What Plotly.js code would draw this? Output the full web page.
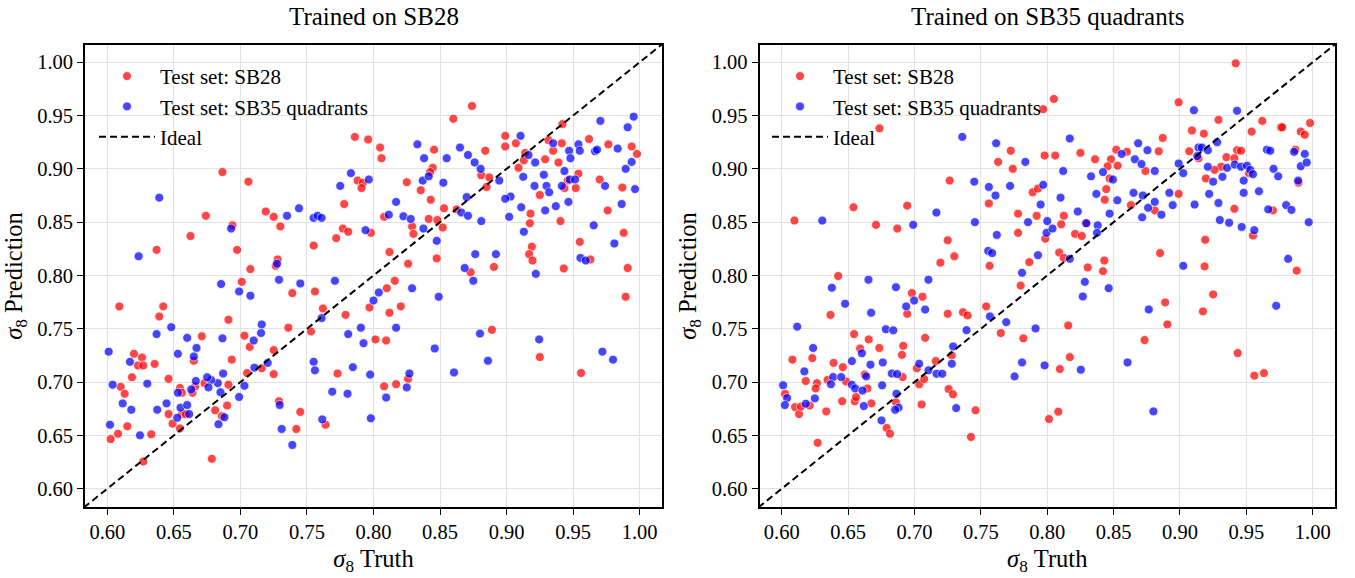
<!DOCTYPE html>
<html>
<head>
<meta charset="utf-8">
<script src="https://cdn.plot.ly/plotly-3.0.1.min.js"></script>
<style>
html,body{margin:0;padding:0;background:#ffffff;}
#chart{width:1355px;height:578px;}
</style>
</head>
<body>
<div id="chart"></div>
<script>
// ---------------- data ----------------
const TICK_VALUES = [0.60, 0.65, 0.70, 0.75, 0.80, 0.85, 0.90, 0.95, 1.00];
const TICK_LABELS = ["0.60", "0.65", "0.70", "0.75", "0.80", "0.85", "0.90", "0.95", "1.00"];
const PANEL_TITLES = ["Trained on SB28", "Trained on SB35 quadrants"];
const SERIES_NAMES = ["Test set: SB28", "Test set: SB35 quadrants", "Ideal"];
const X_TITLE = "<i>σ</i><sub>8</sub> Truth";
const Y_TITLE = "<i>σ</i><sub>8</sub> Prediction";
const IDEAL_X = [0.55, 1.05];
const IDEAL_Y = [0.55, 1.05];

// Panel 1 (trained on SB28): test set SB28  [truth, prediction]
const LEFT_SB28 = [
[0.786,0.930],[0.796,0.9275],[0.6865,0.897],[0.706,0.888],[0.788,0.889],[0.792,0.887],[0.791,0.882],[0.778,0.867],
[0.674,0.856],[0.719,0.860],[0.725,0.855],[0.730,0.846],[0.694,0.847],[0.6625,0.837],[0.637,0.824],[0.6975,0.824],
[0.777,0.844],[0.781,0.841],[0.772,0.835],[0.755,0.828],[0.798,0.840],[0.728,0.815],[0.7265,0.809],[0.7075,0.806],
[0.874,0.959],[0.860,0.947],[0.942,0.942],[0.899,0.931],[0.899,0.921],[0.907,0.924],[0.962,0.928],[0.9315,0.927],
[0.9415,0.924],[0.935,0.917],[0.9765,0.923],[0.994,0.921],[0.998,0.914],[0.805,0.920],[0.806,0.910],[0.8455,0.918],
[0.884,0.917],[0.914,0.915],[0.913,0.908],[0.929,0.909],[0.939,0.906],[0.909,0.901],[0.8445,0.901],[0.8425,0.897],
[0.825,0.8875],[0.8355,0.880],[0.881,0.894],[0.887,0.892],[0.885,0.883],[0.954,0.8955],[0.946,0.889],[0.9435,0.882],
[0.952,0.882],[0.925,0.8755],[0.970,0.890],[0.987,0.8825],[0.843,0.871],[0.853,0.863],[0.8625,0.862],[0.808,0.855],
[0.8415,0.853],[0.848,0.852],[0.829,0.846],[0.830,0.839],[0.852,0.845],[0.918,0.858],[0.9175,0.849],[0.9405,0.851],
[0.976,0.861],[0.988,0.840],[0.955,0.8315],[0.812,0.822],[0.826,0.811],[0.8475,0.816],[0.919,0.827],[0.917,0.820],
[0.9195,0.814],[0.8905,0.808],[0.943,0.8065],[0.963,0.815],[0.991,0.807],[0.873,0.803],
[0.609,0.771],[0.642,0.771],[0.639,0.7615],[0.701,0.794],[0.739,0.7835],[0.756,0.785],[0.762,0.769],[0.779,0.763],
[0.797,0.770],[0.691,0.7585],[0.736,0.751],[0.753,0.7475],[0.671,0.743],[0.703,0.7435],[0.707,0.733],[0.725,0.730],
[0.716,0.713],[0.725,0.7075],[0.705,0.7085],[0.6935,0.721],[0.665,0.720],[0.620,0.7265],[0.626,0.723],[0.623,0.7155],
[0.627,0.7155],[0.6355,0.717],[0.6185,0.7045],[0.646,0.703],[0.610,0.6955],[0.613,0.689],[0.6545,0.6945],[0.656,0.690],
[0.664,0.690],[0.666,0.696],[0.673,0.699],[0.691,0.6975],[0.690,0.678],[0.681,0.6735],[0.686,0.668],[0.646,0.670],
[0.656,0.670],[0.659,0.670],[0.649,0.661],[0.6545,0.6565],[0.615,0.6585],[0.608,0.6515],[0.6025,0.6465],[0.633,0.651],
[0.627,0.6255],[0.6785,0.628],[0.729,0.682],[0.745,0.672],[0.742,0.656],[0.764,0.660],[0.773,0.708],
[0.816,0.795],[0.810,0.788],[0.812,0.765],[0.8205,0.771],[0.8015,0.740],[0.8095,0.739],[0.889,0.749],[0.925,0.7235],
[0.956,0.7085],[0.9895,0.780],[0.808,0.696],[0.817,0.698],[0.826,0.703]
];

// Panel 1 (trained on SB28): test set SB35 quadrants
const LEFT_SB35 = [
[0.639,0.873],[0.783,0.896],[0.7965,0.890],[0.775,0.884],[0.744,0.863],[0.735,0.856],[0.755,0.854],[0.758,0.856],
[0.761,0.854],[0.693,0.844],[0.794,0.8425],[0.6235,0.818],[0.7275,0.811],
[0.9955,0.949],[0.9705,0.945],[0.991,0.939],[0.9105,0.931],[0.833,0.923],[0.865,0.920],[0.838,0.910],[0.855,0.910],
[0.871,0.913],[0.876,0.906],[0.8805,0.900],[0.9165,0.913],[0.9215,0.906],[0.935,0.924],[0.947,0.917],[0.954,0.923],
[0.955,0.917],[0.948,0.910],[0.9665,0.9165],[0.968,0.918],[0.9835,0.919],[0.994,0.9065],[0.9895,0.900],[0.9965,0.881],
[0.974,0.884],[0.9865,0.867],[0.9125,0.8925],[0.928,0.8945],[0.9435,0.898],[0.9475,0.890],[0.9515,0.890],[0.9415,0.884],
[0.930,0.884],[0.932,0.878],[0.921,0.884],[0.9465,0.869],[0.937,0.865],[0.929,0.861],[0.911,0.864],[0.903,0.874],
[0.899,0.872],[0.8945,0.889],[0.902,0.855],[0.837,0.889],[0.8415,0.893],[0.8525,0.887],[0.870,0.8735],[0.817,0.869],
[0.8115,0.857],[0.8225,0.8555],[0.828,0.853],[0.866,0.859],[0.871,0.856],[0.881,0.851],[0.8375,0.844],[0.8475,0.8325],
[0.913,0.841],[0.9655,0.847],[0.981,0.830],[0.9555,0.8165],[0.9595,0.814],[0.8765,0.820],[0.892,0.820],[0.8685,0.807],
[0.922,0.8015],
[0.6855,0.792],[0.699,0.785],[0.7075,0.781],[0.729,0.796],[0.745,0.7925],[0.771,0.795],[0.637,0.745],[0.648,0.7515],
[0.660,0.7415],[0.667,0.732],[0.665,0.724],[0.653,0.7265],[0.6865,0.741],[0.716,0.754],[0.7155,0.746],[0.710,0.739],
[0.7205,0.718],[0.7105,0.7135],[0.703,0.6965],[0.699,0.686],[0.687,0.708],[0.683,0.699],[0.685,0.6905],[0.678,0.702],
[0.675,0.7045],[0.676,0.695],[0.6665,0.701],[0.663,0.693],[0.653,0.690],[0.601,0.7285],[0.617,0.719],[0.604,0.6975],
[0.630,0.6985],[0.6115,0.680],[0.618,0.674],[0.602,0.660],[0.6245,0.650],[0.6375,0.674],[0.6445,0.680],[0.6525,0.6665],
[0.655,0.676],[0.660,0.6785],[0.6615,0.670],[0.688,0.667],[0.6835,0.6605],[0.7295,0.6785],[0.731,0.656],[0.739,0.641],
[0.7615,0.665],[0.769,0.691],[0.7805,0.689],[0.755,0.719],[0.756,0.711],[0.761,0.760],[0.781,0.745],[0.7905,0.751],
[0.7925,0.7365],[0.7845,0.714],[0.7975,0.707],[0.798,0.666],
[0.804,0.784],[0.800,0.7765],[0.829,0.788],[0.849,0.780],[0.875,0.795],[0.817,0.751],[0.846,0.7315],[0.880,0.7455],
[0.886,0.720],[0.8605,0.709],[0.9245,0.740],[0.972,0.7285],[0.980,0.721],[0.827,0.708],[0.825,0.695],[0.8095,0.6855]
];

// Panel 2 (trained on SB35 quadrants): test set SB28
const RIGHT_SB28 = [
[0.6736,0.938],[0.797,0.956],[0.763,0.9065],[0.7725,0.917],[0.774,0.900],[0.798,0.9125],[0.7265,0.889],[0.654,0.864],
[0.6945,0.8655],[0.756,0.8675],[0.789,0.878],[0.793,0.8815],[0.778,0.858],[0.792,0.856],[0.6095,0.8515],[0.671,0.8475],
[0.687,0.844],[0.725,0.833],[0.778,0.840],[0.7985,0.8345],[0.7195,0.812],[0.730,0.818],[0.7565,0.809],[0.7865,0.8125],
[0.942,0.999],[0.805,0.9656],[0.899,0.9625],[0.909,0.936],[0.918,0.933],[0.929,0.946],[0.954,0.935],[0.962,0.945],
[0.976,0.939],[0.977,0.939],[0.991,0.935],[0.994,0.932],[0.998,0.943],[0.887,0.929],[0.884,0.9165],[0.806,0.9125],
[0.825,0.915],[0.836,0.909],[0.852,0.918],[0.860,0.916],[0.848,0.909],[0.8455,0.9025],[0.853,0.903],[0.874,0.898],
[0.907,0.9165],[0.914,0.910],[0.943,0.9175],[0.946,0.917],[0.935,0.911],[0.941,0.910],[0.931,0.902],[0.926,0.899],
[0.952,0.896],[0.9195,0.891],[0.987,0.918],[0.9893,0.887],[0.847,0.891],[0.8445,0.881],[0.8433,0.871],[0.899,0.8765],
[0.863,0.866],[0.881,0.861],[0.941,0.8625],[0.970,0.861],[0.8125,0.856],[0.8105,0.848],[0.821,0.839],[0.826,0.837],
[0.829,0.849],[0.955,0.8375],[0.919,0.8335],[0.885,0.821],[0.809,0.8215],[0.8125,0.8165],[0.8305,0.8075],[0.843,0.814],
[0.842,0.804],[0.9185,0.8085],[0.988,0.8045],
[0.6425,0.7995],[0.6367,0.763],[0.698,0.7835],[0.706,0.780],[0.6945,0.764],[0.725,0.764],[0.7365,0.7655],[0.740,0.7625],
[0.754,0.771],[0.780,0.7905],[0.765,0.746],[0.782,0.741],[0.6545,0.745],[0.6655,0.740],[0.659,0.7315],[0.6735,0.732],
[0.6915,0.734],[0.6905,0.7255],[0.708,0.7415],[0.608,0.721],[0.623,0.7225],[0.639,0.718],[0.646,0.714],[0.618,0.701],
[0.6265,0.699],[0.6255,0.694],[0.6345,0.702],[0.6485,0.7005],[0.6625,0.707],[0.6645,0.694],[0.6025,0.689],[0.610,0.6765],
[0.613,0.670],[0.6145,0.677],[0.621,0.678],[0.6335,0.6725],[0.6455,0.682],[0.655,0.682],[0.656,0.686],[0.6675,0.680],
[0.627,0.643],[0.691,0.7047],[0.686,0.681],[0.679,0.657],[0.6815,0.6515],[0.7018,0.713],[0.7035,0.698],[0.7073,0.7028],
[0.7053,0.679],[0.716,0.7197],[0.728,0.725],[0.7257,0.6935],[0.729,0.6885],[0.746,0.6735],[0.7425,0.6485],
[0.8158,0.7531],[0.817,0.7234],[0.8095,0.7122],[0.8013,0.6653],[0.8083,0.6722],[0.8733,0.7394],[0.8888,0.7747],[0.8905,0.7541],
[0.9173,0.7663],[0.925,0.7822],[0.9435,0.7272],[0.956,0.706],[0.9633,0.7084]
];

// Panel 2 (trained on SB35 quadrants): test set SB35 quadrants
const RIGHT_SB35 = [
[0.736,0.930],[0.7615,0.924],[0.7835,0.9065],[0.745,0.888],[0.756,0.883],[0.772,0.884],[0.761,0.875],[0.797,0.885],
[0.795,0.8665],[0.6305,0.8515],[0.699,0.8475],[0.7165,0.859],[0.7455,0.850],[0.7855,0.850],[0.800,0.851],[0.7995,0.840],
[0.762,0.838],[0.7555,0.823],[0.7585,0.821],[0.793,0.819],[0.781,0.8025],
[0.9105,0.955],[0.943,0.9545],[0.817,0.9285],[0.8685,0.924],[0.8755,0.9175],[0.856,0.914],[0.866,0.909],[0.871,0.9045],
[0.881,0.898],[0.842,0.897],[0.833,0.893],[0.812,0.898],[0.8495,0.890],[0.914,0.920],[0.9165,0.920],[0.921,0.9175],
[0.928,0.925],[0.913,0.912],[0.899,0.905],[0.9025,0.896],[0.921,0.902],[0.932,0.8925],[0.925,0.888],[0.9355,0.901],
[0.9413,0.904],[0.946,0.902],[0.9505,0.903],[0.953,0.899],[0.955,0.895],[0.948,0.889],[0.948,0.8775],[0.9595,0.879],
[0.9655,0.918],[0.968,0.917],[0.986,0.916],[0.994,0.914],[0.991,0.9025],[0.9955,0.906],[0.9705,0.900],[0.974,0.893],
[0.989,0.889],[0.837,0.8765],[0.810,0.873],[0.865,0.8775],[0.872,0.875],[0.8528,0.8705],[0.892,0.8775],[0.881,0.869],
[0.8945,0.866],[0.876,0.8635],[0.886,0.857],[0.8715,0.8545],[0.847,0.858],[0.823,0.860],[0.911,0.8665],[0.922,0.8765],
[0.929,0.868],[0.930,0.852],[0.937,0.8495],[0.9465,0.8455],[0.956,0.8425],[0.9665,0.862],[0.980,0.866],[0.984,0.8615],
[0.997,0.850],[0.8295,0.849],[0.838,0.847],[0.8375,0.840],[0.804,0.844],[0.817,0.8156],[0.9025,0.809],[0.9815,0.8156],
[0.6653,0.796],[0.7105,0.796],[0.6377,0.7885],[0.686,0.789],[0.6997,0.7765],[0.6937,0.771],[0.708,0.768],[0.6477,0.7735],
[0.6673,0.765],[0.6116,0.752],[0.6784,0.7495],[0.684,0.7485],[0.6236,0.732],[0.617,0.710],[0.6528,0.7197],[0.6603,0.727],
[0.6668,0.7163],[0.6761,0.7184],[0.6387,0.7047],[0.6447,0.7047],[0.637,0.698],[0.6528,0.6975],[0.6553,0.694],[0.6608,0.692],
[0.6636,0.7053],[0.6756,0.6969],[0.6618,0.6775],[0.6829,0.708],[0.6869,0.7075],[0.6864,0.689],[0.688,0.676],[0.6854,0.674],
[0.6751,0.664],[0.601,0.697],[0.604,0.685],[0.6023,0.6784],[0.6181,0.6797],[0.6249,0.6847],[0.7035,0.7172],[0.7105,0.711],
[0.7166,0.7078],[0.7209,0.7078],[0.7291,0.7334],[0.7281,0.7172],[0.7392,0.7487],[0.7314,0.6756],[0.7568,0.7616],[0.7691,0.7562],
[0.7912,0.7503],[0.7754,0.7053],[0.781,0.7184],[0.798,0.7156],
[0.8283,0.794],[0.8268,0.7803],[0.8463,0.7881],[0.8765,0.7681],[0.9725,0.7716],[0.8605,0.7184],[0.8253,0.7116],[0.880,0.6725]
];

// ---------------- styling ----------------
const FONT = "Liberation Serif";
const RED = "rgb(255,0,0)";
const BLUE = "rgb(0,0,255)";

function scatter(points, name, color, xa, ya, legend, showlegend) {
  return {
    type: "scatter", mode: "markers",
    x: points.map(p => p[0]), y: points.map(p => p[1]),
    name: name, xaxis: xa, yaxis: ya, legend: legend, showlegend: showlegend,
    marker: {color: color, size: 9, opacity: 0.72, line: {color: "#ffffff", width: 0.8}},
    hoverinfo: "x+y"
  };
}
function ideal(xa, ya, legend) {
  return {
    type: "scatter", mode: "lines", x: IDEAL_X, y: IDEAL_Y, name: SERIES_NAMES[2],
    xaxis: xa, yaxis: ya, legend: legend,
    line: {color: "#000000", width: 2, dash: "7px,4px"}, hoverinfo: "skip"
  };
}

const traces = [
  scatter(LEFT_SB28, SERIES_NAMES[0], RED, "x", "y", "legend", true),
  scatter(LEFT_SB35, SERIES_NAMES[1], BLUE, "x", "y", "legend", true),
  ideal("x", "y", "legend"),
  scatter(RIGHT_SB28, SERIES_NAMES[0], RED, "x2", "y2", "legend2", true),
  scatter(RIGHT_SB35, SERIES_NAMES[1], BLUE, "x2", "y2", "legend2", true),
  ideal("x2", "y2", "legend2")
];

const XR = [0.5832, 1.0168];
const YR = [0.5828, 1.0162];
const AXIS_TITLE_FONT = {family: FONT, size: 24.5, color: "#000"};

function axis(extra) {
  return Object.assign({
    tickmode: "array", tickvals: TICK_VALUES, ticktext: TICK_LABELS,
    ticks: "outside", ticklen: 6, tickwidth: 1.3, tickcolor: "#000000",
    showline: true, linecolor: "#000000", linewidth: 1.6, mirror: true,
    showgrid: true, gridcolor: "#e2e2e2", gridwidth: 1, zeroline: false,
    tickfont: {family: FONT, size: 20.5, color: "#000000"},
    automargin: false, fixedrange: true
  }, extra);
}

const legendCommon = {
  font: {family: FONT, size: 21, color: "#000000"},
  bgcolor: "rgba(255,255,255,0)", borderwidth: 0,
  xanchor: "left", yanchor: "top", itemwidth: 56, tracegroupgap: 0
};

const layout = {
  width: 1355, height: 578,
  margin: {l: 85, r: 20, t: 45, b: 71, pad: 0},
  paper_bgcolor: "#ffffff", plot_bgcolor: "#ffffff",
  font: {family: FONT, color: "#000000"},
  xaxis: axis({domain: [0, 0.4616], anchor: "y", range: XR,
    title: {text: X_TITLE, font: AXIS_TITLE_FONT, standoff: 7}}),
  yaxis: axis({domain: [0, 1], anchor: "x", range: YR,
    title: {text: Y_TITLE, font: AXIS_TITLE_FONT, standoff: 8}}),
  xaxis2: axis({domain: [0.5396, 1], anchor: "y2", range: XR,
    title: {text: X_TITLE, font: AXIS_TITLE_FONT, standoff: 7}}),
  yaxis2: axis({domain: [0, 1], anchor: "x2", range: YR,
    title: {text: Y_TITLE, font: AXIS_TITLE_FONT, standoff: 8}}),
  legend: Object.assign({x: 0.0072, y: 0.9763}, legendCommon),
  legend2: Object.assign({x: 0.5456, y: 0.9763}, legendCommon),
  annotations: [
    {text: PANEL_TITLES[0], x: 0.2308, y: 1, xref: "paper", yref: "paper", xanchor: "center", yanchor: "middle",
     yshift: 29, showarrow: false, font: {family: FONT, size: 25, color: "#000"}},
    {text: PANEL_TITLES[1], x: 0.7696, y: 1, xref: "paper", yref: "paper", xanchor: "center", yanchor: "middle",
     yshift: 29, showarrow: false, font: {family: FONT, size: 25, color: "#000"}}
  ]
};

Plotly.newPlot("chart", traces, layout, {displayModeBar: false, staticPlot: false, responsive: false});
</script>
</body>
</html>
